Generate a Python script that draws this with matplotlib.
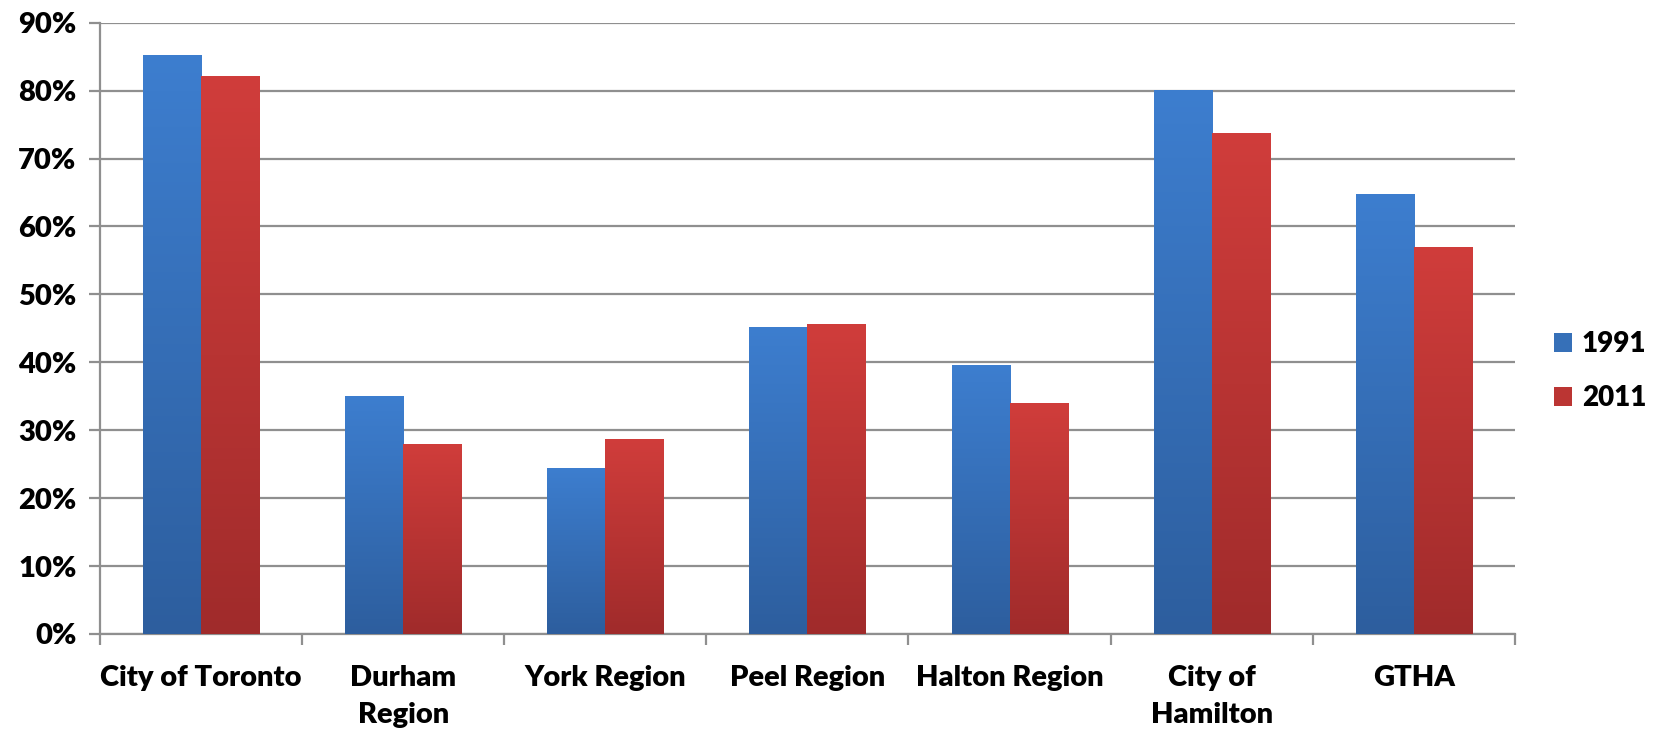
import numpy as np
import matplotlib
matplotlib.use("Agg")
import matplotlib.pyplot as plt
from matplotlib.colors import LinearSegmentedColormap
from matplotlib.patches import Patch
from matplotlib.ticker import FixedLocator, FuncFormatter

# Share of residents by region, 1991 vs 2011
regions = ["City of Toronto", "Durham\nRegion", "York Region", "Peel Region",
           "Halton Region", "City of\nHamilton", "GTHA"]
share_1991 = [85.3, 35.0, 24.5, 45.2, 39.6, 80.1, 64.8]
share_2011 = [82.1, 28.0, 28.7, 45.7, 34.0, 73.7, 57.0]
years = ["1991", "2011"]

plt.rcParams["font.family"] = ["Lato", "DejaVu Sans"]
plt.rcParams["font.weight"] = "heavy"

blue_cmap = LinearSegmentedColormap.from_list("blu", ["#2d5e9e", "#3d7ecf"])
red_cmap = LinearSegmentedColormap.from_list("rd", ["#a02b2b", "#d03d3b"])

fig = plt.figure(figsize=(16.61, 7.32), dpi=100)
ax = fig.add_axes([0.0602, 0.1339, 0.8518, 0.8351])

x = np.arange(len(regions))
w = 0.287
grad = np.linspace(0, 1, 256).reshape(-1, 1)

def gradient_bars(xpos, vals, cmap):
    bars = ax.bar(xpos, vals, width=w, color="none", edgecolor="none", zorder=3)
    for b in bars:
        x0, y0 = b.get_x(), b.get_y()
        im = ax.imshow(grad, cmap=cmap, origin="lower", aspect="auto",
                       extent=[x0, x0 + b.get_width(), y0, y0 + b.get_height()],
                       zorder=3, interpolation="bilinear")
        im.set_clip_path(b)
    return bars

gradient_bars(x - w / 2, share_1991, blue_cmap)
gradient_bars(x + w / 2, share_2011, red_cmap)

ax.set_xlim(-0.5, len(regions) - 0.5)
ax.set_ylim(0, 90)

# Gridlines and axes
ax.yaxis.set_major_locator(FixedLocator(np.arange(0, 91, 10)))
ax.yaxis.set_major_formatter(FuncFormatter(lambda v, p: f"{v:.0f}%"))
ax.grid(axis="y", color="#8f8f8f", linewidth=1.6, zorder=0)
ax.set_axisbelow(True)
for s in ["top", "right"]:
    ax.spines[s].set_visible(False)
for s in ["left", "bottom"]:
    ax.spines[s].set_color("#8f8f8f")
    ax.spines[s].set_linewidth(1.6)

ax.set_xticks(x)
ax.set_xticklabels(regions, fontsize=21, fontweight="heavy", linespacing=1.55)
ax.set_xticks(np.arange(-0.5, len(regions)), minor=True)
ax.tick_params(axis="x", which="major", length=0, pad=22)
ax.tick_params(axis="x", which="minor", length=8, width=1.6, color="#8f8f8f")
ax.tick_params(axis="y", length=8, width=1.6, color="#8f8f8f", labelsize=21, pad=9)
for t in ax.get_yticklabels():
    t.set_fontweight("heavy")

handles = [Patch(facecolor="#3670b8"), Patch(facecolor="#bb3533")]
ax.legend(handles, years, loc="center left", bbox_to_anchor=(1.01, 0.43),
          frameon=False, prop={"size": 20, "weight": "heavy"},
          handlelength=0.65, handleheight=0.65, handletextpad=0.35, labelspacing=1.0)

fig.savefig("out.png", dpi=100)
